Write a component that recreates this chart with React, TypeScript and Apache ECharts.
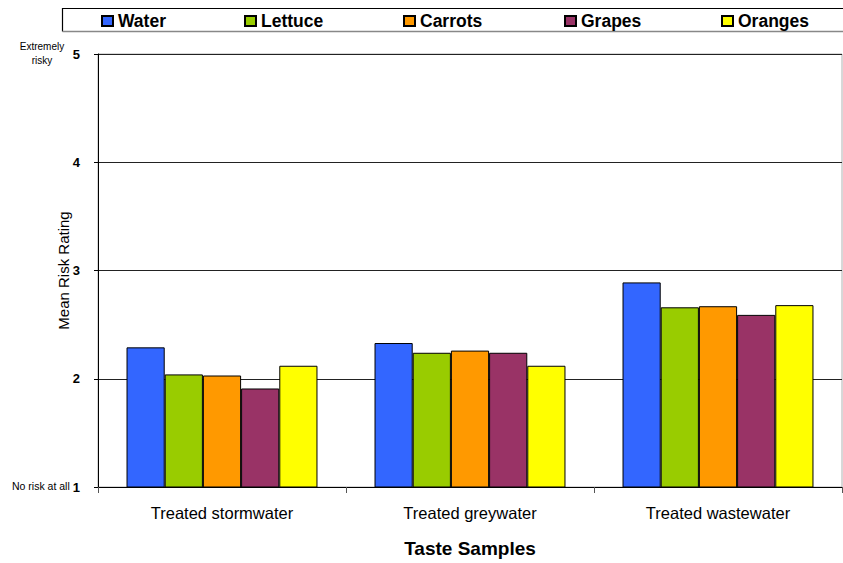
import React, { useEffect, useRef } from "react";
import * as echarts from "echarts";

const categories = ["Treated stormwater", "Treated greywater", "Treated wastewater"];
const seriesNames = ["Water", "Lettuce", "Carrots", "Grapes", "Oranges"];
const water = [2.29, 2.33, 2.89];
const lettuce = [2.04, 2.24, 2.66];
const carrots = [2.03, 2.26, 2.67];
const grapes = [1.91, 2.24, 2.59];
const oranges = [2.12, 2.12, 2.68];
const colors = ["#3366FF", "#99CC00", "#FF9900", "#993366", "#FFFF00"];
const yTicks = [1, 2, 3, 4, 5];
const legendLefts = [101, 244, 403, 564, 721];

const FONT = "'Liberation Sans', Arial, sans-serif";

export default function App() {
  const ref = useRef<HTMLDivElement>(null);
  useEffect(() => {
    if (!ref.current) return;
    const chart = echarts.init(ref.current, undefined, { renderer: "svg" });
    const values = [water, lettuce, carrots, grapes, oranges];
    chart.setOption({
      animation: false,
      backgroundColor: "#ffffff",
      textStyle: { fontFamily: FONT },
      grid: {
        left: 98,
        right: 1,
        top: 54,
        bottom: 75,
        show: true,
        borderColor: "#b0b0b0",
        borderWidth: 1,
      },
      legend: seriesNames.map((n, i) => ({
        data: [n],
        left: legendLefts[i],
        top: 12,
        icon: "rect",
        itemWidth: 11,
        itemHeight: 10,
        padding: 0,
        selectedMode: false,
        textStyle: { fontFamily: FONT, fontSize: 17.5, fontWeight: "bold", color: "#000" },
      })),
      xAxis: {
        type: "category",
        data: categories,
        name: "Taste Samples",
        nameLocation: "middle",
        nameGap: 52,
        nameTextStyle: { fontFamily: FONT, fontSize: 19, fontWeight: "bold", color: "#000", verticalAlign: "top" },
        axisLine: { lineStyle: { color: "#000", width: 1 } },
        axisTick: { show: true, length: 6, lineStyle: { color: "#555" } },
        axisLabel: { margin: 17, fontFamily: FONT, fontSize: 16.5, color: "#000" },
        splitLine: { show: false },
      },
      yAxis: {
        type: "value",
        min: 1,
        max: 5,
        interval: 1,
        name: "Mean Risk Rating",
        nameLocation: "middle",
        nameGap: 27,
        nameMoveOverlap: false,
        nameTextStyle: { fontFamily: FONT, fontSize: 15, color: "#000" },
        axisLine: { show: true, lineStyle: { color: "#000", width: 1 } },
        axisTick: { show: true, length: 4, lineStyle: { color: "#000" } },
        axisLabel: {
          margin: 18,
          fontFamily: FONT,
          fontSize: 13,
          fontWeight: "bold",
          color: "#000",
          formatter: (v: number) => (yTicks.indexOf(v) >= 0 ? String(v) : ""),
        },
        splitLine: { show: true, lineStyle: { color: "#222", width: 1 } },
      },
      series: seriesNames.map((n, i) => ({
        name: n,
        type: "bar",
        data: values[i],
        barGap: "0%",
        barCategoryGap: "23%",
        itemStyle: { color: colors[i], borderColor: "#000", borderWidth: 1 },
      })),
      graphic: [
        {
          type: "polyline",
          silent: true,
          shape: { points: [[860, 8.5], [62.5, 8.5], [62.5, 31.5]] },
          style: { stroke: "#000", lineWidth: 1.2, fill: null },
        },
        {
          type: "line",
          silent: true,
          shape: { x1: 62.5, y1: 31.5, x2: 860, y2: 31.5 },
          style: { stroke: "#888", lineWidth: 1.5 },
        },
        {
          type: "text",
          left: 12,
          top: 480,
          style: { text: "No risk at all", fontFamily: FONT, fontSize: 10.5, fill: "#000" },
        },
        {
          type: "text",
          x: 42,
          y: 53,
          style: {
            text: "Extremely\nrisky",
            fontFamily: FONT,
            fontSize: 10,
            lineHeight: 14,
            fill: "#000",
            align: "center",
            verticalAlign: "middle",
          },
        },
      ],
    });
    return () => chart.dispose();
  }, []);
  return (
    <div
      ref={ref}
      style={{ position: "fixed", left: 0, top: 0, width: 843, height: 563, background: "#fff" }}
    />
  );
}
